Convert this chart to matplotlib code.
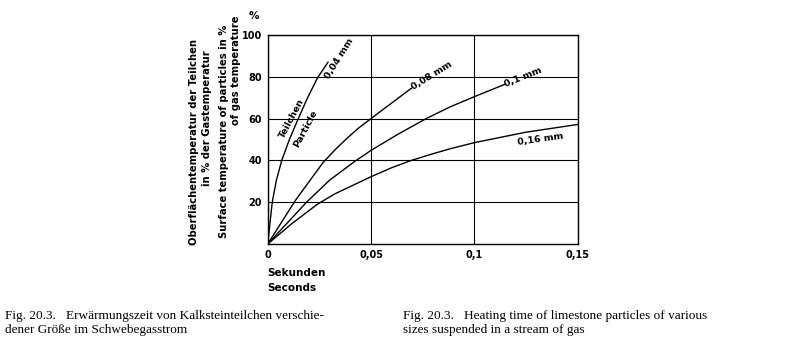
import matplotlib
matplotlib.use("Agg")
import matplotlib.pyplot as plt

# values (time in s, temperature in % of gas temp.)
t_004 = [0, 0.001, 0.0022, 0.0042, 0.0068, 0.0105, 0.0148, 0.0193, 0.0241, 0.0292]
y_004 = [0, 9, 20, 30.5, 40, 50, 60, 70, 79.5, 87]

t_008 = [0, 0.0135, 0.0268, 0.033, 0.0383, 0.044, 0.05, 0.056, 0.0614, 0.0695]
y_008 = [0, 21, 39, 45.5, 50.5, 55.5, 60, 64.5, 68.5, 74.5]

t_010 = [0, 0.0188, 0.030, 0.0421, 0.05, 0.063, 0.0767, 0.088, 0.1, 0.1145]
y_010 = [0, 20, 30.6, 39.5, 44.8, 52.5, 60, 65.5, 70.5, 76.3]

t_016 = [0, 0.012, 0.024, 0.0325, 0.05, 0.06, 0.0695, 0.08, 0.088, 0.1, 0.125, 0.15]
y_016 = [0, 10, 19, 24, 32.2, 36.5, 40, 43.2, 45.5, 48.5, 53.5, 57.2]

x_ticks = [0, 0.05, 0.1, 0.15]
x_ticklabels = ["0", "0,05", "0,1", "0,15"]
y_ticks = [20, 40, 60, 80, 100]

fig = plt.figure(figsize=(7.86, 3.59), dpi=100)
ax = fig.add_axes([267.7 / 786, 115 / 359, 310 / 786, 209 / 359])

for t, y in [(t_004, y_004), (t_008, y_008), (t_010, y_010), (t_016, y_016)]:
    ax.plot(t, y, color="black", linewidth=1.0, solid_joinstyle="round")

ax.set_xlim(0, 0.15)
ax.set_ylim(0, 100)
ax.set_xticks(x_ticks)
ax.set_xticklabels(x_ticklabels)
ax.set_yticks(y_ticks)
ax.grid(True, color="black", linewidth=0.8)
ax.tick_params(length=0, labelsize=7, pad=4)
for lab in ax.get_xticklabels() + ax.get_yticklabels():
    lab.set_fontweight("bold")
for s in ax.spines.values():
    s.set_linewidth(1.0)

# curve labels
lab_kw = dict(fontsize=6.8, fontweight="bold", ha="center", va="center",
              rotation_mode="anchor")
ax.text(0.0345, 88.8, "0,04 mm", rotation=58, **lab_kw)
ax.text(0.0118, 60.0, "Teilchen", rotation=62, **lab_kw)
ax.text(0.0185, 55.0, "Particle", rotation=62, **lab_kw)
ax.text(0.0793, 80.4, "0,08 mm", rotation=32, **lab_kw)
ax.text(0.1237, 79.9, "0,1 mm", rotation=22, **lab_kw)
ax.text(0.132, 50.2, "0,16 mm", rotation=8, **lab_kw)

# axis titles
def ftext(px, py, s, **kw):
    fig.text(px / 786, 1 - py / 359, s, **kw)

yl = dict(fontsize=7.2, fontweight="bold", rotation=90, ha="center", va="center")
ftext(194, 142, "Oberflächentemperatur der Teilchen", **yl)
ftext(207, 118, "in % der Gastemperatur", **yl)
ftext(224, 131, "Surface temperature of particles in %", **yl)
ftext(236, 70, "of gas temperature", **yl)
ftext(254, 16, "%", fontsize=7.5, fontweight="bold", ha="center", va="center")

ftext(267, 273, "Sekunden", fontsize=7.5, fontweight="bold", ha="left", va="center")
ftext(267, 288, "Seconds", fontsize=7.5, fontweight="bold", ha="left", va="center")

cap = dict(fontsize=9.5, family="Liberation Serif", ha="left", va="center")
ftext(5, 316, "Fig. 20.3.   Erwärmungszeit von Kalksteinteilchen verschie-", **cap)
ftext(5, 330, "dener Größe im Schwebegasstrom", **cap)
ftext(403, 316, "Fig. 20.3.   Heating time of limestone particles of various", **cap)
ftext(403, 330, "sizes suspended in a stream of gas", **cap)

fig.savefig("out.png", dpi=100, facecolor="white")
